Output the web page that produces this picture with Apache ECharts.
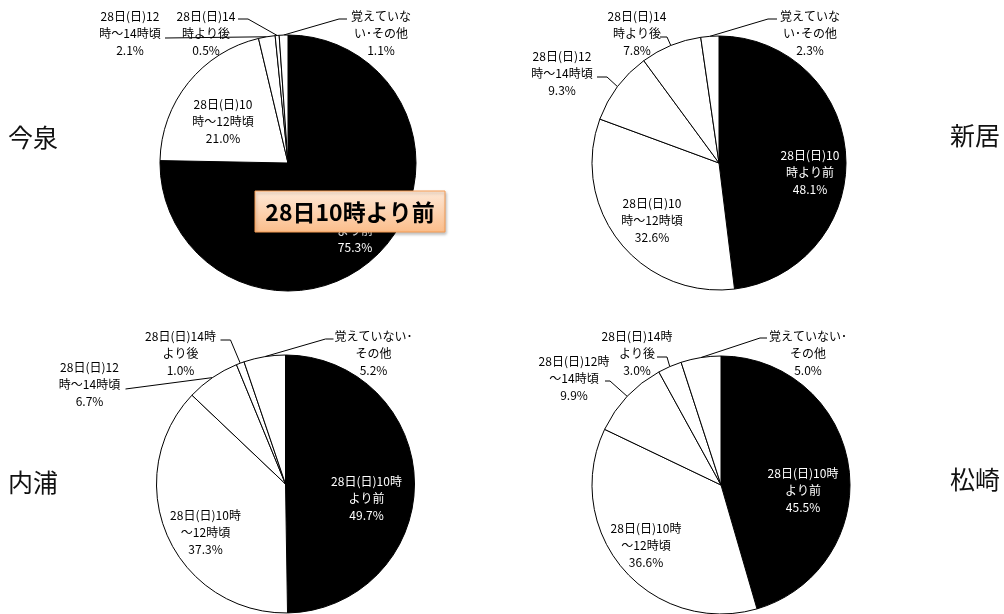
<!DOCTYPE html>
<html>
<head>
<meta charset="utf-8">
<script src="https://cdn.jsdelivr.net/npm/echarts@6/dist/echarts.min.js"></script>
<style>
html, body { margin: 0; padding: 0; background: #fff; }
#chart { width: 1004px; height: 614px; }
</style>
</head>
<body>
<div id="chart"></div>
<script>
// Categories (time of evacuation start, 28th)
const categories = [
  '28日(日)10時より前',
  '28日(日)10時～12時頃',
  '28日(日)12時～14時頃',
  '28日(日)14時より後',
  '覚えていない・その他'
];
const areas = ['今泉', '新居', '内浦', '松崎'];

// Shares per area (%)
const imaizumi  = [75.3, 21.0, 2.1, 0.5, 1.1];
const arai      = [48.1, 32.6, 9.3, 7.8, 2.3];
const uchiura   = [49.7, 37.3, 6.7, 1.0, 5.2];
const matsuzaki = [45.5, 36.6, 9.9, 3.0, 5.0];

// Label wording per area, broken into lines as printed
const imaizumiLabels = [
  ['28日(日)10時', 'より前'], ['28日(日)10', '時～12時頃'], ['28日(日)12', '時～14時頃'],
  ['28日(日)14', '時より後'], ['覚えていな', 'い･その他']
];
const araiLabels = [
  ['28日(日)10', '時より前'], ['28日(日)10', '時～12時頃'], ['28日(日)12', '時～14時頃'],
  ['28日(日)14', '時より後'], ['覚えていな', 'い･その他']
];
const uchiuraLabels = [
  ['28日(日)10時', 'より前'], ['28日(日)10時', '～12時頃'], ['28日(日)12', '時～14時頃'],
  ['28日(日)14時', 'より後'], ['覚えていない･', 'その他']
];
const matsuzakiLabels = [
  ['28日(日)10時', 'より前'], ['28日(日)10時', '～12時頃'], ['28日(日)12時', '～14時頃'],
  ['28日(日)14時', 'より後'], ['覚えていない･', 'その他']
];

const callout = '28日10時より前';

const FONT = '"Noto Sans CJK JP", "Noto Sans", sans-serif';

// Placement of each pie and its labels (offsets relative to the pie centre).
// lbl: label centre; at: where the leader meets the label; stub: horizontal run next to the label.
const layouts = [
  { values: imaizumi, labels: imaizumiLabels, center: [288, 163], r: 128,
    title: { x: 8, y: 137 },
    lbl: [[67, 67], [-65, -42], [-158, -130], [-82, -130], [93, -130]],
    at:  [null, null, [-123, -125], [-50, -144], [59, -144]],
    stub:[0, 0, 0, 10, -8] },
  { values: arai, labels: araiLabels, center: [719, 163], r: 127,
    title: { x: 950, y: 135 },
    lbl: [[91, 9], [-67, 57], [-157, -90], [-82, -130], [91, -130]],
    at:  [null, null, [-122, -86], [-59, -126], [58, -144]],
    stub:[0, 0, 10, 7, -9] },
  { values: uchiura, labels: uchiuraLabels, center: [285.5, 484], r: 129,
    title: { x: 8, y: 482 },
    lbl: [[81, 14], [-80, 48], [-196, -100], [-105, -131], [88, -131]],
    at:  [null, null, [-160, -95], [-65, -144], [48, -145]],
    stub:[0, 0, 0, 10, -8] },
  { values: matsuzaki, labels: matsuzakiLabels, center: [721, 485], r: 129,
    title: { x: 950, y: 479 },
    lbl: [[82, 5], [-75, 60], [-147, -107], [-84, -132], [87, -132]],
    at:  [null, null, [-116, -104], [-64, -128], [46, -147]],
    stub:[0, 0, 5, 10, -7] }
];

function buildSeries(L) {
  const cx = L.center[0], cy = L.center[1];
  return {
    type: 'pie',
    center: L.center,
    radius: L.r,
    startAngle: 90,
    clockwise: true,
    avoidLabelOverlap: false,
    silent: true,
    animation: false,
    itemStyle: { borderColor: '#000', borderWidth: 1 },
    label: {
      show: true,
      fontFamily: FONT,
      fontSize: 12,
      lineHeight: 17,
      align: 'center',
      color: '#000'
    },
    labelLine: { show: true, length: 8, length2: 8, lineStyle: { color: '#000', width: 1 } },
    data: L.values.map(function (v, k) {
      const inner = k < 2;
      return {
        name: categories[k],
        value: v,
        itemStyle: { color: k === 0 ? '#000' : '#fff' },
        label: {
          position: inner ? 'inside' : 'outside',
          color: k === 0 ? '#fff' : '#000',
          formatter: L.labels[k].join('\n') + '\n' + v.toFixed(1) + '%'
        },
        labelLine: { show: !inner }
      };
    }),
    labelLayout: function (p) {
      const k = p.dataIndex;
      const out = {
        x: cx + L.lbl[k][0],
        y: cy + L.lbl[k][1],
        align: 'center',
        verticalAlign: 'middle'
      };
      if (L.at[k] && p.labelLinePoints) {
        const p0 = p.labelLinePoints[0];
        const p2 = [cx + L.at[k][0], cy + L.at[k][1]];
        const p1 = [p2[0] + L.stub[k], p2[1]];
        out.labelLinePoints = [p0, p1, p2];
      }
      return out;
    }
  };
}

const chart = echarts.init(document.getElementById('chart'), null, { renderer: 'canvas' });

const graphics = layouts.map(function (L, i) {
  return {
    type: 'text',
    x: L.title.x,
    y: L.title.y,
    z: 50,
    style: {
      text: areas[i],
      font: '25px ' + FONT,
      fill: '#111',
      align: 'left',
      verticalAlign: 'middle'
    }
  };
});

// Highlight box laid over the first pie
graphics.push({
  type: 'group',
  x: 255,
  y: 191,
  zlevel: 1,
  z: 100,
  children: [
    {
      type: 'rect',
      zlevel: 1,
      z: 100,
      shape: { x: 0, y: 0, width: 190, height: 41 },
      style: {
        fill: new echarts.graphic.LinearGradient(0, 0, 0, 1, [
          { offset: 0, color: '#fee9d8' },
          { offset: 1, color: '#fbbd8a' }
        ]),
        stroke: '#f59b52',
        lineWidth: 1,
        shadowBlur: 3,
        shadowOffsetX: 1,
        shadowOffsetY: 2,
        shadowColor: 'rgba(0,0,0,0.25)'
      }
    },
    {
      type: 'text',
      zlevel: 1,
      z: 101,
      x: 95,
      y: 21,
      style: {
        text: callout,
        font: 'bold 23px ' + FONT,
        fill: '#000',
        align: 'center',
        verticalAlign: 'middle'
      }
    }
  ]
});

chart.setOption({
  animation: false,
  backgroundColor: '#fff',
  series: layouts.map(buildSeries),
  graphic: graphics
});
</script>
</body>
</html>
